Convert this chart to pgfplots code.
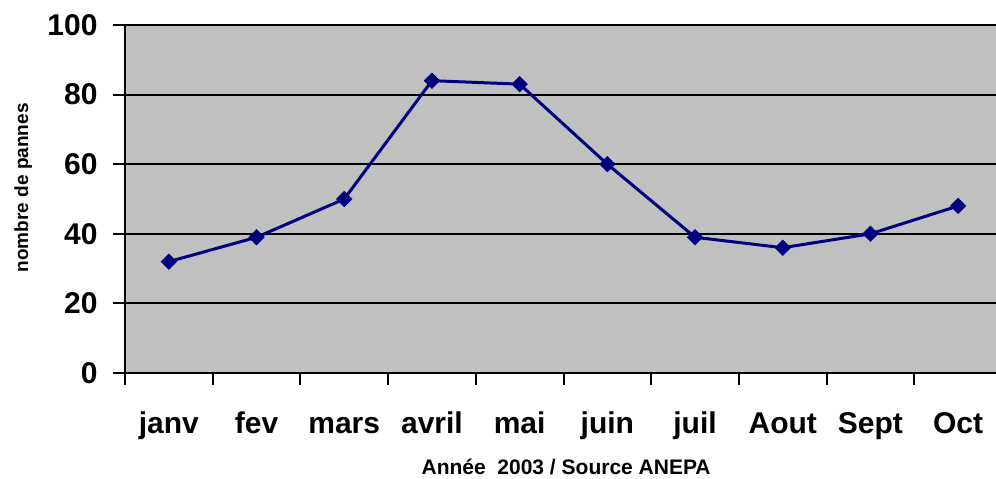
\documentclass[border=0pt]{standalone}
\usepackage{pgfplots}
\pgfplotsset{compat=1.18}
\usepackage{fontspec}
\setmainfont{Liberation Sans}
\definecolor{plotgray}{HTML}{C0C0C0}
\definecolor{navyline}{HTML}{000080}
\begin{document}
\begin{tikzpicture}[x=1pt,y=1pt]
\path[use as bounding box] (0,0) rectangle (996,479);
\begin{axis}[
  at={(125pt,106pt)}, anchor=south west,
  scale only axis,
  width=877pt, height=348pt,
  xmin=-0.5, xmax=9.5,
  ymin=0, ymax=100,
  axis lines=left,
  axis line style={-, line width=2pt, black},
  axis background/.style={fill=plotgray},
  xtick={0,...,9},
  xticklabels={janv,fev,mars,avril,mai,juin,juil,Aout,Sept,Oct},
  minor xtick={-0.5,0.5,...,9.5},
  ytick={0,20,...,100},
  ymajorgrids,
  major grid style={line width=2pt, black},
  tick align=outside,
  major x tick style={draw=none},
  minor x tick style={line width=2pt, black},
  major y tick style={line width=2pt, black},
  major tick length=12pt,
  minor tick length=12pt,
  /pgf/number format/assume math mode=true,
  ticklabel style={font=\fontsize{30}{30}\selectfont\bfseries, text=black},
  xticklabel style={anchor=base, yshift=-48pt},
  yticklabel style={anchor=east, xshift=-12pt},
  xlabel={Année\ \ 2003 / Source ANEPA},
  xlabel style={font=\fontsize{21}{21}\selectfont\bfseries, at={(axis description cs:0.503,-0.292)}, anchor=base},
  ylabel={nombre de pannes},
  ylabel style={font=\fontsize{19}{19}\selectfont\bfseries, at={(axis description cs:-0.116,0.532)}, anchor=center, rotate=0},
  clip=false,
]
\addplot[color=navyline, line width=3pt, mark=square*, mark size=5.5pt, mark options={rotate=45, fill=navyline, draw=navyline, line width=0.5pt}]
  coordinates {(0,32) (1,39) (2,50) (3,84) (4,83) (5,60) (6,39) (7,36) (8,40) (9,48)};
\end{axis}
\end{tikzpicture}
\end{document}
